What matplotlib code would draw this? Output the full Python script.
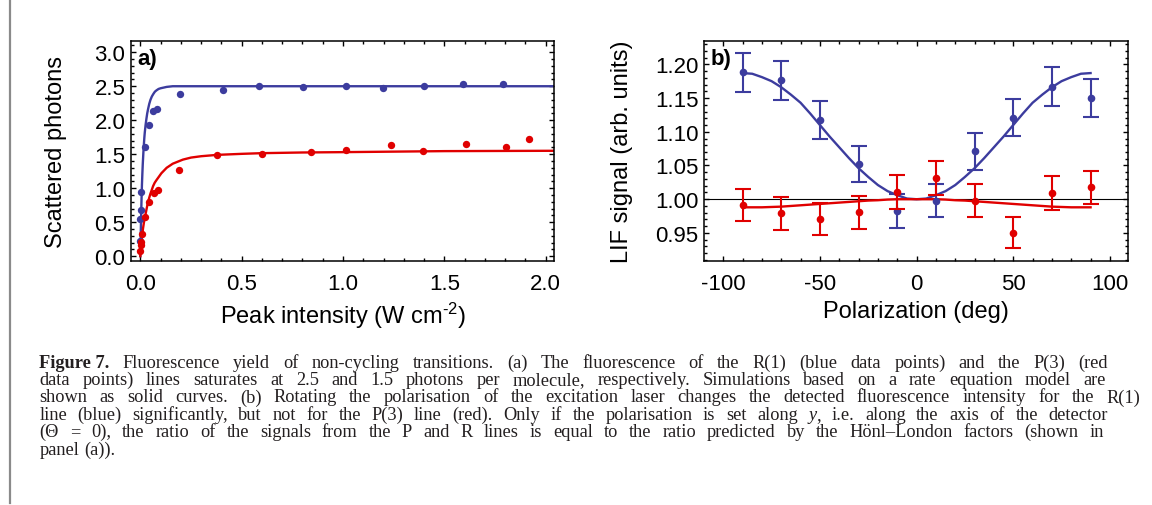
import matplotlib
matplotlib.use('Agg')
import matplotlib.pyplot as plt
from matplotlib.lines import Line2D
from matplotlib.ticker import MultipleLocator, FormatStrFormatter

plt.rcParams['font.family'] = 'Liberation Sans'
plt.rcParams['axes.unicode_minus'] = False
plt.rcParams['mathtext.fontset'] = 'custom'
plt.rcParams['mathtext.rm'] = 'Liberation Sans'
plt.rcParams['mathtext.it'] = 'Liberation Sans:italic'

BLUE = '#3c3c9e'
RED = '#e00000'

# (a) scattered photons vs peak intensity
r1_int = [0.0, 0.0, 0.003, 0.005, 0.025, 0.043, 0.064, 0.081, 0.197, 0.406,
          0.587, 0.803, 1.015, 1.195, 1.40, 1.59, 1.79]
r1_photons = [0.22, 0.54, 0.68, 0.94, 1.60, 1.93, 2.14, 2.17, 2.38, 2.45,
              2.51, 2.49, 2.50, 2.48, 2.51, 2.53, 2.53]
p3_int = [0.0, 0.002, 0.003, 0.007, 0.022, 0.045, 0.068, 0.087, 0.19, 0.38,
          0.60, 0.84, 1.017, 1.238, 1.393, 1.605, 1.804, 1.917]
p3_photons = [0.07, 0.21, 0.17, 0.33, 0.57, 0.80, 0.93, 0.98, 1.26, 1.49,
              1.51, 1.53, 1.56, 1.63, 1.55, 1.65, 1.61, 1.73]

# rate equation simulations
r1_sim_int = [0.0, 0.002, 0.004, 0.006, 0.008, 0.010, 0.012, 0.015, 0.017,
              0.020, 0.022, 0.026, 0.030, 0.034, 0.038, 0.044, 0.050, 0.057,
              0.065, 0.072, 0.080, 0.090, 0.100, 0.115, 0.130, 0.160, 0.200,
              0.300, 0.500, 1.0, 2.04]
r1_sim_photons = [0.0, 0.32, 0.60, 0.84, 1.05, 1.21, 1.35, 1.52, 1.62,
                  1.75, 1.82, 1.93, 2.02, 2.10, 2.16, 2.24, 2.30, 2.35,
                  2.39, 2.42, 2.44, 2.46, 2.47, 2.48, 2.49, 2.50, 2.50,
                  2.50, 2.50, 2.50, 2.50]
p3_sim_int = [0.0, 0.004, 0.008, 0.013, 0.018, 0.022, 0.026, 0.030, 0.034,
              0.038, 0.044, 0.050, 0.056, 0.063, 0.071, 0.080, 0.092, 0.104,
              0.117, 0.130, 0.145, 0.160, 0.185, 0.210, 0.250, 0.300, 0.380,
              0.500, 0.600, 0.800, 1.0, 1.5, 2.04]
p3_sim_photons = [0.0, 0.14, 0.27, 0.40, 0.50, 0.56, 0.62, 0.68, 0.74,
                  0.79, 0.86, 0.92, 0.97, 1.03, 1.08, 1.12, 1.17, 1.22,
                  1.26, 1.30, 1.33, 1.36, 1.39, 1.42, 1.45, 1.47, 1.49,
                  1.505, 1.515, 1.525, 1.53, 1.545, 1.55]

# (b) LIF signal vs polarization
pol_deg = [-90, -70, -50, -30, -10, 10, 30, 50, 70, 90]
r1_lif = [1.188, 1.176, 1.117, 1.052, 0.982, 0.998, 1.071, 1.121, 1.167, 1.150]
r1_err = [0.0295, 0.029, 0.028, 0.0265, 0.025, 0.025, 0.027, 0.028, 0.0295, 0.028]
p3_lif = [0.991, 0.979, 0.971, 0.981, 1.011, 1.031, 0.998, 0.950, 1.009, 1.018]
p3_err = [0.024, 0.024, 0.024, 0.0245, 0.025, 0.025, 0.025, 0.023, 0.0255, 0.0245]

sim_deg = [-90, -85, -80, -75, -70, -65, -60, -55, -50, -45, -40, -35, -30,
           -25, -20, -15, -10, -5, 0, 5, 10, 15, 20, 25, 30, 35, 40, 45, 50,
           55, 60, 65, 70, 75, 80, 85, 90]
r1_sim_lif = [1.187, 1.186, 1.181, 1.175, 1.166, 1.155, 1.143, 1.127, 1.110,
              1.093, 1.077, 1.061, 1.046, 1.033, 1.021, 1.012, 1.006, 1.001,
              1.000, 1.001, 1.006, 1.012, 1.021, 1.033, 1.046, 1.061, 1.077,
              1.093, 1.110, 1.127, 1.143, 1.155, 1.166, 1.175, 1.181, 1.186,
              1.187]
p3_sim_lif = [0.988, 0.988, 0.988, 0.9885, 0.989, 0.990, 0.991, 0.992, 0.993,
              0.994, 0.995, 0.996, 0.997, 0.998, 0.9985, 0.9995, 1.000, 1.000,
              1.000, 1.000, 1.000, 0.9995, 0.9985, 0.998, 0.997, 0.996, 0.995,
              0.994, 0.993, 0.992, 0.991, 0.990, 0.989, 0.9885, 0.988, 0.988,
              0.988]

W, H = 1152, 506
fig = plt.figure(figsize=(W / 100, H / 100), dpi=100)


def style(ax):
    ax.tick_params(which='both', direction='in', top=True, right=True,
                   width=1.0, labelsize=16, colors='black')
    ax.tick_params(which='major', length=3.5)
    ax.tick_params(which='minor', length=2)
    ax.tick_params(axis='x', pad=9)
    ax.tick_params(axis='y', pad=4)
    for s in ax.spines.values():
        s.set_linewidth(1.1)


# panel a
ax1 = fig.add_axes([131 / W, 1 - 261.6 / H, 423 / W, 219.9 / H])
ax1.plot(r1_sim_int, r1_sim_photons, color=BLUE, lw=1.7)
ax1.plot(p3_sim_int, p3_sim_photons, color=RED, lw=1.7)
ax1.plot(r1_int, r1_photons, 'o', color=BLUE, ms=5.3, mew=0)
ax1.plot(p3_int, p3_photons, 'o', color=RED, ms=5.3, mew=0)
ax1.set_xlim(-0.046, 2.041)
ax1.set_ylim(-0.066, 3.17)
ax1.xaxis.set_major_locator(MultipleLocator(0.5))
ax1.xaxis.set_minor_locator(MultipleLocator(0.1))
ax1.yaxis.set_major_locator(MultipleLocator(0.5))
ax1.yaxis.set_minor_locator(MultipleLocator(0.1))
ax1.xaxis.set_major_formatter(FormatStrFormatter('%.1f'))
ax1.yaxis.set_major_formatter(FormatStrFormatter('%.1f'))
style(ax1)
ax1.set_xlabel(r'Peak intensity (W cm$^{\text{-2}}$)', fontsize=17)
ax1.set_ylabel('Scattered photons', fontsize=17)
ax1.xaxis.set_label_coords(0.5, -0.178)
ax1.yaxis.set_label_coords(-0.152, 0.5)
ax1.text(0.014, 0.965, 'a)', transform=ax1.transAxes, fontsize=16,
         fontweight='bold', va='top', ha='left')

# panel b
ax2 = fig.add_axes([704.3 / W, 1 - 261.6 / H, 423.4 / W, 219.9 / H])
ax2.axhline(1.0, color='black', lw=0.8)
ax2.plot(sim_deg, r1_sim_lif, color=BLUE, lw=1.7)
ax2.plot(sim_deg, p3_sim_lif, color=RED, lw=1.7)
ax2.errorbar(pol_deg, r1_lif, yerr=r1_err, fmt='none', ecolor=BLUE,
             elinewidth=1.5, capsize=5.8, capthick=1.5)
ax2.plot(pol_deg, r1_lif, 'o', color=BLUE, ms=5.5, mew=0)
ax2.errorbar(pol_deg, p3_lif, yerr=p3_err, fmt='none', ecolor=RED,
             elinewidth=1.5, capsize=5.8, capthick=1.5)
ax2.plot(pol_deg, p3_lif, 'o', color=RED, ms=5.5, mew=0)
ax2.set_xlim(-109.8, 109.2)
ax2.set_ylim(0.909, 1.235)
ax2.xaxis.set_major_locator(MultipleLocator(50))
ax2.xaxis.set_minor_locator(MultipleLocator(10))
ax2.yaxis.set_major_locator(MultipleLocator(0.05))
ax2.yaxis.set_minor_locator(MultipleLocator(0.01))
ax2.yaxis.set_major_formatter(FormatStrFormatter('%.2f'))
style(ax2)
ax2.set_xlabel('Polarization (deg)', fontsize=17)
ax2.set_ylabel('LIF signal (arb. units)', fontsize=17)
ax2.xaxis.set_label_coords(0.5, -0.178)
ax2.yaxis.set_label_coords(-0.168, 0.5)
ax2.text(0.016, 0.965, 'b)', transform=ax2.transAxes, fontsize=16,
         fontweight='bold', va='top', ha='left')

# left margin rule
fig.add_artist(Line2D([9.5 / W, 9.5 / W], [1, 1 - 504 / H], color='#8a8a8a',
                      lw=1.6, transform=fig.transFigure))

# caption, each line justified to its right edge
CAP_FS = 13.2
N, B, I = ('normal', 'normal'), ('bold', 'normal'), ('normal', 'italic')


def words(s, st=N):
    return [[(w, st)] for w in s.split()]


cap_lines = [
    ([[('Figure 7.', B)]] + words('Fluorescence yield of non-cycling transitions. (a) The '
                                  'fluorescence of the R(1) (blue data points) and the P(3) (red'), 1108),
    (words('data points) lines saturates at 2.5 and 1.5 photons per molecule, respectively. '
           'Simulations based on a rate equation model are'), 1106),
    (words('shown as solid curves. (b) Rotating the polarisation of the excitation laser changes '
           'the detected fluorescence intensity for the R(1)'), 1140),
    (words('line (blue) significantly, but not for the P(3) line (red). Only if the polarisation '
           'is set along') + [[('y', I), (',', N)]] + words('i.e. along the axis of the detector'), 1108),
    (words('(\u0398 = 0), the ratio of the signals from the P and R lines is equal to the ratio '
           'predicted by the H\u00f6nl\u2013London factors (shown in'), 1104),
    (words('panel (a)).'), None),
]
baselines = [367.7, 385.1, 402.5, 420.0, 437.4, 454.8]

renderer = fig.canvas.get_renderer()
x0 = 39.3
for (line, right), yb in zip(cap_lines, baselines):
    placed = []
    for word in line:
        runs = []
        for txt, (wt, st) in word:
            t = fig.text(0, 1 - yb / H, txt, family='Liberation Serif', fontsize=CAP_FS,
                         fontweight=wt, fontstyle=st, va='baseline', ha='left',
                         color='#231f20')
            runs.append((t, t.get_window_extent(renderer).width))
        placed.append(runs)
    wsum = sum(w for runs in placed for _, w in runs)
    if right is None or len(placed) < 2:
        gap = 0.25 * CAP_FS * 100 / 72
    else:
        gap = (right - x0 - wsum) / (len(placed) - 1)
    x = x0
    for runs in placed:
        for t, w in runs:
            t.set_x(x / W)
            x += w
        x += gap

fig.savefig('out.png', dpi=100)
